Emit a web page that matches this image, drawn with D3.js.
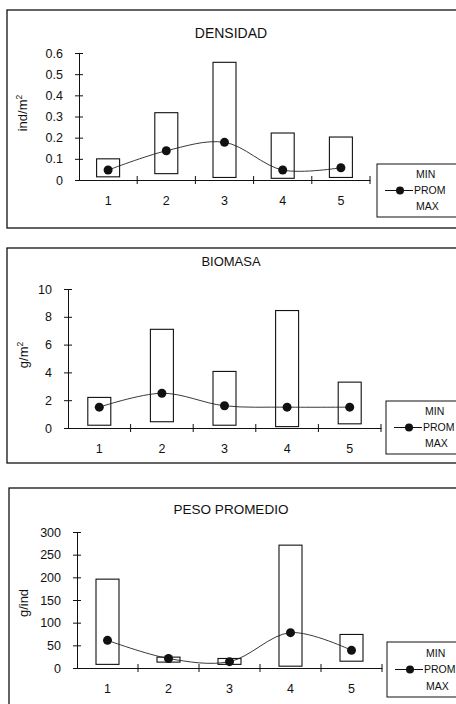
<!DOCTYPE html>
<html>
<head>
<meta charset="utf-8">
<script src="https://cdn.jsdelivr.net/npm/d3@7"></script>
<style>
  body { margin: 0; background: #fff; }
  text { font-family: "Liberation Sans", Arial, sans-serif; fill: #111; }
</style>
</head>
<body>
<div id="wrapper"></div>
<script>
// Data
const categories = ["1", "2", "3", "4", "5"]

const densMin  = [0.015, 0.03, 0.012, 0.008, 0.012]
const densMax  = [0.1, 0.318, 0.556, 0.222, 0.203]
const densProm = [0.047, 0.138, 0.178, 0.047, 0.058]
const densTicks = [0, 0.1, 0.2, 0.3, 0.4, 0.5, 0.6]

const bioMin  = [0.2, 0.45, 0.2, 0.1, 0.3]
const bioMax  = [2.2, 7.1, 4.07, 8.45, 3.3]
const bioProm = [1.5, 2.5, 1.6, 1.5, 1.5]
const bioTicks = [0, 2, 4, 6, 8, 10]

const pesoMin  = [8, 13, 8, 4, 15]
const pesoMax  = [196, 24, 21, 271, 74]
const pesoProm = [61, 21, 14, 78, 39]
const pesoTicks = [0, 50, 100, 150, 200, 250, 300]

const legendLabels = ["MIN", "PROM", "MAX"]

const panels = [
  { title: "DENSIDAD", titleSize: 14, unit: "ind/m", sup: "2",
    min: densMin, max: densMax, prom: densProm, ticks: densTicks, domain: [0, 0.6],
    frame: { x: 7, y: 10, h: 218 }, xr: [79, 370], yr: [180, 53],
    titleY: 38, labelX: 27, labelY: 113, legend: { x: 377, y: 164, h: 53 } },
  { title: "BIOMASA", titleSize: 13, unit: "g/m", sup: "2",
    min: bioMin, max: bioMax, prom: bioProm, ticks: bioTicks, domain: [0, 10],
    frame: { x: 7, y: 248, h: 215 }, xr: [68, 381], yr: [428, 289],
    titleY: 266, labelX: 28, labelY: 355, legend: { x: 386, y: 401, h: 53 } },
  { title: "PESO PROMEDIO", titleSize: 13.5, unit: "g/ind", sup: "",
    min: pesoMin, max: pesoMax, prom: pesoProm, ticks: pesoTicks, domain: [0, 300],
    frame: { x: 9, y: 488, h: 240 }, xr: [77, 382], yr: [668, 532],
    titleY: 514, labelX: 28, labelY: 603, legend: { x: 387, y: 642, h: 55 } },
]

const svg = d3.select("#wrapper")
  .append("svg")
    .attr("width", 456)
    .attr("height", 704)

panels.forEach(p => drawPanel(p))

function drawPanel(p) {
  const g = svg.append("g")

  // outer frame (runs off the right edge like the scan)
  g.append("rect")
    .attr("x", p.frame.x)
    .attr("y", p.frame.y)
    .attr("width", 520)
    .attr("height", p.frame.h)
    .attr("fill", "none")
    .attr("stroke", "#111")
    .attr("stroke-width", 1.3)

  g.append("text")
    .attr("x", 231)
    .attr("y", p.titleY)
    .attr("text-anchor", "middle")
    .style("font-size", p.titleSize + "px")
    .text(p.title)

  // scales
  const xScale = d3.scaleBand()
    .domain(categories)
    .range(p.xr)
  const yScale = d3.scaleLinear()
    .domain(p.domain)
    .range(p.yr)

  // y axis
  const yAxis = g.append("g")
    .attr("transform", `translate(${p.xr[0]},0)`)
    .call(d3.axisLeft(yScale)
      .tickValues(p.ticks)
      .tickFormat(d => String(d))
      .tickSizeOuter(0)
      .tickSizeInner(4)
      .tickPadding(12))
  yAxis.select(".domain").attr("stroke", "#111")
  yAxis.selectAll(".tick line").attr("x1", 4).attr("stroke", "#111")
  yAxis.selectAll(".tick text")
    .style("font-size", "12.5px")
    .style("font-family", "Liberation Sans, Arial, sans-serif")
    .attr("fill", "#111")

  // x axis: labels at band centres, ticks at band edges
  const xAxis = g.append("g")
    .attr("transform", `translate(0,${p.yr[0]})`)
    .call(d3.axisBottom(xScale).tickSize(0).tickPadding(16))
  xAxis.select(".domain").attr("stroke", "#111")
  xAxis.selectAll(".tick text")
    .style("font-size", "12.5px")
    .style("font-family", "Liberation Sans, Arial, sans-serif")
    .attr("fill", "#111")
  const edges = categories.map(c => xScale(c)).concat([xScale.range()[1]])
  xAxis.selectAll(".edge")
    .data(edges.slice(1))
    .join("line")
      .attr("x1", d => d)
      .attr("x2", d => d)
      .attr("y1", -4)
      .attr("y2", 4)
      .attr("stroke", "#111")

  // y label
  const lab = g.append("text")
    .attr("transform", `translate(${p.labelX},${p.labelY}) rotate(-90)`)
    .attr("text-anchor", "middle")
    .style("font-size", "13px")
  lab.append("tspan").text(p.unit)
  if (p.sup) {
    lab.append("tspan")
      .attr("dy", -5)
      .style("font-size", "8.5px")
      .text(p.sup)
  }

  // min-max boxes
  const boxW = 23
  const cx = i => xScale(categories[i]) + xScale.bandwidth() / 2
  g.selectAll(".box")
    .data(categories)
    .join("rect")
      .attr("x", (d, i) => cx(i) - boxW / 2)
      .attr("y", (d, i) => yScale(p.max[i]))
      .attr("width", boxW)
      .attr("height", (d, i) => yScale(p.min[i]) - yScale(p.max[i]))
      .attr("fill", "#fff")
      .attr("stroke", "#111")
      .attr("stroke-width", 1.1)

  // smoothed mean line
  const lineGenerator = d3.line()
    .x((d, i) => cx(i))
    .y(d => yScale(d))
    .curve(d3.curveCatmullRom.alpha(0.5))
  g.append("path")
    .attr("d", lineGenerator(p.prom))
    .attr("fill", "none")
    .attr("stroke", "#222")
    .attr("stroke-width", 0.9)

  g.selectAll(".prom")
    .data(p.prom)
    .join("circle")
      .attr("cx", (d, i) => cx(i))
      .attr("cy", d => yScale(d))
      .attr("r", 4.5)
      .attr("fill", "#111")

  // legend
  const L = p.legend
  g.append("rect")
    .attr("x", L.x)
    .attr("y", L.y)
    .attr("width", 100)
    .attr("height", L.h)
    .attr("fill", "#fff")
    .attr("stroke", "#111")
    .attr("stroke-width", 1)
  const rowY = i => L.y + L.h * (0.2 + 0.3 * i)
  g.selectAll(".leg")
    .data(legendLabels)
    .join("text")
      .attr("x", (d, i) => i === 1 ? L.x + 37 : L.x + 39)
      .attr("y", (d, i) => rowY(i))
      .attr("dy", "0.35em")
      .style("font-size", "10.5px")
      .text(d => d)
  g.append("line")
    .attr("x1", L.x + 8)
    .attr("x2", L.x + 36)
    .attr("y1", rowY(1))
    .attr("y2", rowY(1))
    .attr("stroke", "#111")
  g.append("circle")
    .attr("cx", L.x + 23)
    .attr("cy", rowY(1))
    .attr("r", 4)
    .attr("fill", "#111")
}
</script>
</body>
</html>
